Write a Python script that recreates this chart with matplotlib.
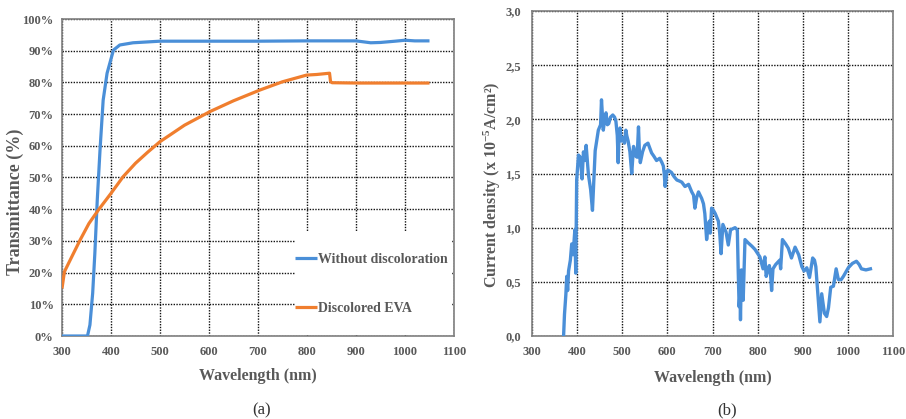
import matplotlib
matplotlib.use("Agg")
import matplotlib.pyplot as plt
from matplotlib.patches import Rectangle
from matplotlib.ticker import FuncFormatter

# ---------------- data ----------------
wl_clear = [300, 352, 357, 362.6, 367, 372, 377.6, 384, 392, 405, 418, 445, 500, 600, 700,
            800, 900, 915, 930, 950, 980, 1000, 1020, 1050]
t_clear = [0, 0, 3.5, 13.5, 26, 43, 58.7, 74.4, 82.9, 90.2, 91.8, 92.5, 93, 93, 93,
           93.1, 93.1, 92.8, 92.5, 92.6, 93.0, 93.3, 93.1, 93.1]

wl_disc = [300, 305, 320, 337, 355, 374, 400, 425, 450, 475, 500, 550, 602, 650, 704,
           750, 799, 820, 846, 848, 851, 900, 1000, 1050]
t_disc = [15, 20.3, 25, 30.3, 35.5, 39.7, 45, 50.3, 54.5, 58, 61.3, 66.5, 70.8, 74.2, 77.6,
          80.2, 82.3, 82.5, 82.9, 80.3, 79.9, 79.8, 79.8, 79.8]

wl_cur = [370, 372, 375, 377, 379, 381, 385, 388, 391, 395, 397, 399, 403, 407, 411, 414,
          417, 420, 425, 430, 434, 440, 447, 452, 454, 458, 461, 464, 467, 470, 474, 479,
          483, 486, 489, 491, 493, 495, 498, 502, 505, 508, 510, 513, 517, 521, 525, 530,
          533, 536, 538, 540, 545, 550, 557, 565, 570, 576, 583, 588, 591, 593, 595, 599,
          602, 609, 615, 621, 627, 632, 639, 647, 654, 658, 661, 665, 669, 676, 680, 683,
          687, 690, 693, 695, 698, 702, 706, 713, 716, 719, 723, 726, 730, 735, 740, 745,
          750, 755, 757, 759, 761, 762, 764, 766, 768, 770, 772, 779, 787, 794, 805, 812,
          816, 819, 823, 826, 829, 831, 834, 840, 849, 851, 855, 862, 868, 875, 883, 891,
          898, 903, 909, 915, 922, 926, 929, 934, 938, 942, 945, 948, 953, 957, 962, 968,
          974, 979, 985, 990, 1001, 1010, 1019, 1025, 1030, 1040, 1050]
j_cur = [0.0, 0.2, 0.38, 0.55, 0.42, 0.60, 0.70, 0.85, 0.75, 0.98, 0.58, 1.44, 1.67, 1.65,
         1.45, 1.70, 1.62, 1.76, 1.49, 1.35, 1.16, 1.71, 1.90, 1.95, 2.18, 1.90, 2.00, 2.06,
         1.95, 1.96, 2.02, 2.04, 2.02, 1.98, 1.85, 1.60, 1.88, 1.92, 1.80, 1.83, 1.78, 1.90,
         1.85, 1.80, 1.70, 1.50, 1.75, 1.66, 1.65, 1.93, 1.70, 1.60, 1.70, 1.76, 1.78, 1.69,
         1.66, 1.62, 1.64, 1.60, 1.57, 1.50, 1.38, 1.52, 1.53, 1.51, 1.47, 1.44, 1.43, 1.42,
         1.38, 1.40, 1.33, 1.30, 1.18, 1.28, 1.33, 1.27, 1.22, 1.13, 0.89, 1.00, 1.06, 0.95,
         1.18, 1.16, 1.13, 1.06, 0.95, 0.76, 1.03, 1.00, 0.96, 0.84, 0.98, 0.99, 1.00, 0.98,
         0.60, 0.27, 0.40, 0.15, 0.61, 0.45, 0.33, 0.60, 0.89, 0.86, 0.83, 0.80, 0.73, 0.62,
         0.73, 0.55, 0.62, 0.65, 0.55, 0.42, 0.62, 0.66, 0.70, 0.62, 0.89, 0.85, 0.81, 0.72,
         0.82, 0.75, 0.64, 0.60, 0.63, 0.54, 0.72, 0.70, 0.64, 0.36, 0.13, 0.39, 0.30, 0.21,
         0.18, 0.26, 0.45, 0.46, 0.62, 0.52, 0.52, 0.55, 0.63, 0.67, 0.69, 0.66, 0.62, 0.61,
         0.62]

x_ticks = [300, 400, 500, 600, 700, 800, 900, 1000, 1100]
y_ticks_a = [0, 10, 20, 30, 40, 50, 60, 70, 80, 90, 100]
y_ticks_b = [0.0, 0.5, 1.0, 1.5, 2.0, 2.5, 3.0]

# ---------------- style ----------------
plt.rcParams['font.family'] = ['Liberation Serif', 'DejaVu Serif']
plt.rcParams['font.weight'] = 'bold'
plt.rcParams['axes.labelweight'] = 'bold'
plt.rcParams['mathtext.fontset'] = 'custom'
plt.rcParams['mathtext.rm'] = 'Liberation Serif:bold'
plt.rcParams['mathtext.it'] = 'Liberation Serif:bold'
plt.rcParams['mathtext.bf'] = 'Liberation Serif:bold'

TXT = '#595959'
SPINE = '#7f7f7f'
BLUE = '#4a8fd8'
ORANGE = '#f07e2e'

W, H = 906, 419
fig = plt.figure(figsize=(W / 100, H / 100), dpi=100)


def frac(x0, y0, x1, y1):
    return [x0 / W, 1 - y1 / H, (x1 - x0) / W, (y1 - y0) / H]


def style_axes(ax):
    ax.set_axisbelow(True)
    ax.grid(True, color='#111111', linestyle=(0, (1, 1)), linewidth=1.0)
    for s in ax.spines.values():
        s.set_color(SPINE)
        s.set_linewidth(1.2)
    ax.tick_params(length=0, labelsize=9, labelcolor=TXT)
    ax.tick_params(axis='x', pad=7.5)
    ax.set_xticks(x_ticks)
    ax.set_xlim(300, 1100)
    ax.set_xlabel('Wavelength (nm)', fontsize=11.5, color=TXT, fontweight='bold')


# ---------------- panel (a) ----------------
ax1 = fig.add_axes(frac(62, 19, 454, 336))
style_axes(ax1)
ax1.set_ylim(0, 100)
ax1.set_yticks(y_ticks_a)
ax1.yaxis.set_major_formatter(FuncFormatter(lambda v, p: f'{int(v)}%'))
ax1.tick_params(axis='y', pad=6)
l1, = ax1.plot(wl_clear, t_clear, color=BLUE, lw=2.3, label='Without discoloration',
               solid_capstyle='butt', zorder=3)
l2, = ax1.plot(wl_disc, t_disc, color=ORANGE, lw=2.3, label='Discolored EVA',
               solid_capstyle='butt', zorder=3)
ax1.add_patch(Rectangle((0.595, 0.003), 0.401, 0.325, transform=ax1.transAxes,
                        facecolor='white', edgecolor='none', zorder=1.5))
leg = ax1.legend(handles=[l1, l2], loc='lower left', bbox_to_anchor=(0.58, 0.05),
                 frameon=False, fontsize=10, handlelength=1.6, handletextpad=0.05,
                 labelspacing=2.55, borderaxespad=0)
for t in leg.get_texts():
    t.set_color(TXT)
    t.set_fontweight('bold')
ax1.set_ylabel('Transmittance (%)', fontsize=13, color=TXT, fontweight='bold')
ax1.yaxis.set_label_coords(-0.098, (336 - 202) / 317)
ax1.xaxis.set_label_coords(0.5, -(368 - 336) / 317)

# ---------------- panel (b) ----------------
ax2 = fig.add_axes(frac(532, 11, 893, 336))
style_axes(ax2)
ax2.set_ylim(0, 3.0)
ax2.set_yticks(y_ticks_b)
ax2.yaxis.set_major_formatter(FuncFormatter(lambda v, p: f'{v:.1f}'.replace('.', ',')))
ax2.tick_params(axis='y', pad=8)
ax2.plot(wl_cur, j_cur, color=BLUE, lw=2.4, zorder=3)
ax2.set_ylabel('Current density (x 10$^{-5}$A/cm²)', fontsize=11.5, color=TXT,
               fontweight='bold')
ax2.yaxis.set_label_coords(-(532 - 503) / 361, (336 - 185) / 325)
ax2.xaxis.set_label_coords(0.5, -(370 - 336) / 325)

fig.text(262 / W, 1 - 410 / H, '(a)', ha='center', va='center', fontsize=12,
         fontweight='normal', color='#333333')
fig.text(727 / W, 1 - 410 / H, '(b)', ha='center', va='center', fontsize=12,
         fontweight='normal', color='#333333')

fig.savefig('out.png', dpi=100, facecolor='white')
